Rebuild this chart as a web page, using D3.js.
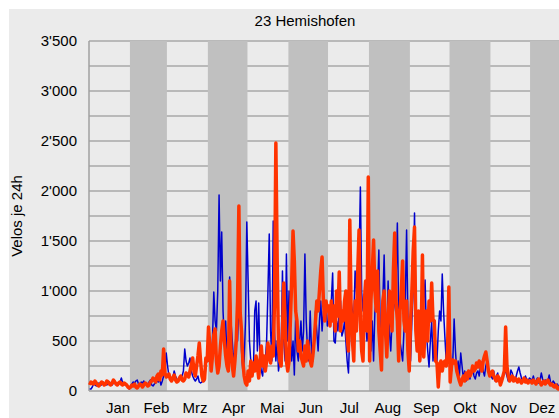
<!DOCTYPE html>
<html>
<head>
<meta charset="utf-8">
<script src="https://cdn.jsdelivr.net/npm/d3@7"></script>
<style>
  body { margin: 0; background: #fff; }
  svg { display: block; font-family: "Liberation Sans", Arial, sans-serif; }
</style>
</head>
<body>
<div id="svg"></div>
<script>
var title = "23 Hemishofen";
var yLabel = "Velos je 24h";
var months = ["Jan", "Feb", "Mrz", "Apr", "Mai", "Jun", "Jul", "Aug", "Sep", "Okt", "Nov", "Dez"];
var monthDays = [31, 28, 31, 30, 31, 30, 31, 31, 30, 31, 30, 31];
var yTicks = [0, 500, 1000, 1500, 2000, 2500, 3000, 3500];

// blue series, one value per day, month by month
var blueJan = [20,20,40,70,60,50,60,80,70,60,90,80,70,60,80,90,70,60,80,100,70,60,80,90,130,80,70,60,50,40,20];
var blueFeb = [50,70,90,80,100,110,70,60,90,80,100,70,80,60,90,110,60,50,70,80,100,90,120,60,100,150,200,380];
var blueMar = [250,150,120,100,130,200,150,120,100,130,140,150,200,420,300,250,280,330,200,150,120,100,120,150,90,80,90,120,100,250,350];
var blueApr = [300,400,250,500,990,700,600,1000,1960,1100,1590,800,500,700,300,250,1140,700,500,300,400,600,500,900,800,400,200,300,700,1690];
var blueMai = [1100,500,300,150,200,800,900,400,880,300,200,150,350,300,500,1000,1570,600,300,1700,600,300,500,200,300,400,1200,500,300,1370,500];
var blueJun = [1000,600,300,500,160,760,400,300,500,700,400,600,1370,700,400,300,800,400,300,500,800,600,400,700,900,600,800,700,900,650];
var blueJul = [700,800,900,1180,500,480,700,600,800,900,550,600,700,500,300,180,600,900,800,700,1200,1000,800,1300,2040,990,800,900,700,500,600];
var blueAug = [500,400,700,300,800,900,1000,1410,600,300,900,1360,700,500,1100,600,400,700,800,900,1100,1680,800,500,400,300,600,900,1610,700,300];
var blueSep = [300,700,1000,1780,800,600,500,400,700,600,900,1110,600,400,240,500,700,300,500,400,300,600,800,700,1170,800,540,300,400,600];
var blueOkt = [400,200,300,720,400,200,300,150,380,250,120,200,100,150,180,120,200,250,150,120,180,200,150,250,290,200,150,250,300,200,150];
var blueNov = [150,120,200,100,150,180,100,80,120,150,180,200,150,100,130,210,180,120,100,150,200,240,180,130,100,120,150,110,100,130];
var blueDez = [120,100,150,90,100,130,80,100,180,120,90,110,80,100,160,90,70,100,80,60,70,50,60,70,50,40,60,50,40,50,40];

// red series
var redJan = [60,90,80,70,100,80,60,50,70,90,80,60,70,100,90,70,60,80,110,90,70,60,80,90,70,60,80,70,60,40,30];
var redFeb = [40,60,50,70,40,30,50,70,60,40,60,80,70,50,60,90,100,130,110,90,150,170,110,200,160,420,180,140];
var redMar = [150,170,120,100,130,160,110,90,100,130,150,110,100,120,180,160,140,200,260,330,200,150,250,350,480,300,150,100,120,330,300];
var redApr = [640,450,200,350,560,620,300,180,250,450,600,700,500,350,250,200,1100,400,250,150,300,500,900,1850,780,600,300,150,80,60];
var redMai = [200,100,300,150,280,200,350,250,130,300,450,250,350,200,300,480,350,280,450,350,900,2480,1300,450,300,250,600,1080,700,300,200];
var redJun = [300,700,1100,1600,1300,800,700,400,500,350,300,250,450,300,500,400,300,250,350,500,700,900,800,1000,1200,1340,900,700,900,800];
var redJul = [850,650,900,700,850,600,1000,750,1190,600,800,700,900,1000,550,400,1710,800,500,300,900,600,1200,1610,700,400,300,900,1100,600,2140];
var redAug = [300,900,1200,1510,1000,800,1200,600,400,210,900,1000,600,340,700,1000,800,600,1200,1580,900,700,300,800,1000,1300,700,600,900,400,200];
var redSep = [700,1000,1400,1640,600,400,800,300,500,1360,340,600,800,500,900,700,1080,710,700,300,280,40,250,300,200,280,300,250,400,1040];
var redOkt = [90,250,310,280,300,200,150,100,60,110,150,100,180,120,200,150,180,250,200,220,280,240,300,250,200,300,350,390,300,200,150];
var redNov = [180,200,150,120,100,150,130,60,100,150,200,640,250,150,100,120,150,100,130,110,90,120,100,80,100,130,90,110,80,100];
var redDez = [100,80,110,90,70,100,120,90,60,80,100,70,90,110,80,60,70,50,40,60,30,20,40,60,50,30,50,40,30,40,30];

var blue = [].concat(blueJan, blueFeb, blueMar, blueApr, blueMai, blueJun, blueJul, blueAug, blueSep, blueOkt, blueNov, blueDez);
var red = [].concat(redJan, redFeb, redMar, redApr, redMai, redJun, redJul, redAug, redSep, redOkt, redNov, redDez);

var width = 559;
var height = 418;

var fmt = d3.formatLocale({decimal: ".", thousands: "'", grouping: [3], currency: ["", ""]}).format(",");

var xScale = d3.scaleLinear()
               .domain([0, 365])
               .range([89, 571]);

var yScale = d3.scaleLinear()
               .domain([0, 3500])
               .range([391, 41]);

// month label positions (evenly spaced)
var labelScale = d3.scalePoint()
                   .domain(months)
                   .range([118, 542]);

var starts = [];
var acc = 0;
monthDays.forEach(function (d) { starts.push(acc); acc += d; });

var svg = d3.select("#svg").append("svg")
            .attr("width", width)
            .attr("height", height);

svg.append("rect")
    .attr("x", 9)
    .attr("y", 9)
    .attr("width", width)
    .attr("height", height)
    .attr("fill", "#ebebeb");

// grid lines every 250
svg.append("g")
    .selectAll("line")
    .data(d3.range(250, 3501, 250))
    .enter().append("line")
    .attr("x1", xScale(0))
    .attr("x2", xScale(365))
    .attr("y1", d => yScale(d))
    .attr("y2", d => yScale(d))
    .attr("stroke", "#a8a8a8")
    .attr("stroke-width", 1.5);

// grey bands for every second month
var bands = [];
starts.forEach(function (s, i) {
  if (i % 2 == 1) bands.push({s: s, e: s + monthDays[i]});
});

svg.append("g")
    .selectAll("rect")
    .data(bands)
    .enter().append("rect")
    .attr("x", d => xScale(d.s))
    .attr("width", d => xScale(d.e) - xScale(d.s))
    .attr("y", yScale(3500))
    .attr("height", yScale(0) - yScale(3500))
    .attr("fill", "#c0c0c0");

// axis lines
svg.append("line")
    .attr("x1", xScale(0)).attr("x2", xScale(0))
    .attr("y1", yScale(3500)).attr("y2", yScale(0))
    .attr("stroke", "#a0a0a0").attr("stroke-width", 1.5);

svg.append("line")
    .attr("x1", xScale(0)).attr("x2", xScale(365))
    .attr("y1", yScale(0)).attr("y2", yScale(0))
    .attr("stroke", "#a0a0a0").attr("stroke-width", 1.5);

// y tick labels
svg.append("g")
    .selectAll("text")
    .data(yTicks)
    .enter().append("text")
    .attr("x", 77)
    .attr("y", d => yScale(d))
    .attr("dy", "0.36em")
    .style("text-anchor", "end")
    .style("font-size", "15px")
    .text(d => fmt(d));

// month labels
svg.append("g")
    .selectAll("text")
    .data(months)
    .enter().append("text")
    .attr("x", d => labelScale(d))
    .attr("y", 413)
    .style("text-anchor", "middle")
    .style("font-size", "15px")
    .text(d => d);

svg.append("text")
    .attr("x", 305)
    .attr("y", 26)
    .style("text-anchor", "middle")
    .style("font-size", "15px")
    .text(title);

svg.append("text")
    .attr("transform", "rotate(-90)")
    .attr("x", -216)
    .attr("y", 22)
    .style("text-anchor", "middle")
    .style("font-size", "15px")
    .text(yLabel);

var line = d3.line()
             .x((d, i) => xScale(i + 0.5))
             .y(d => yScale(d));

svg.append("path")
    .datum(blue)
    .attr("fill", "none")
    .attr("stroke", "#0000cc")
    .attr("stroke-width", 1.5)
    .attr("stroke-linejoin", "round")
    .attr("d", line);

svg.append("path")
    .datum(red)
    .attr("fill", "none")
    .attr("stroke", "#ff3300")
    .attr("stroke-width", 3.5)
    .attr("stroke-linejoin", "round")
    .attr("d", line);
</script>
</body>
</html>
